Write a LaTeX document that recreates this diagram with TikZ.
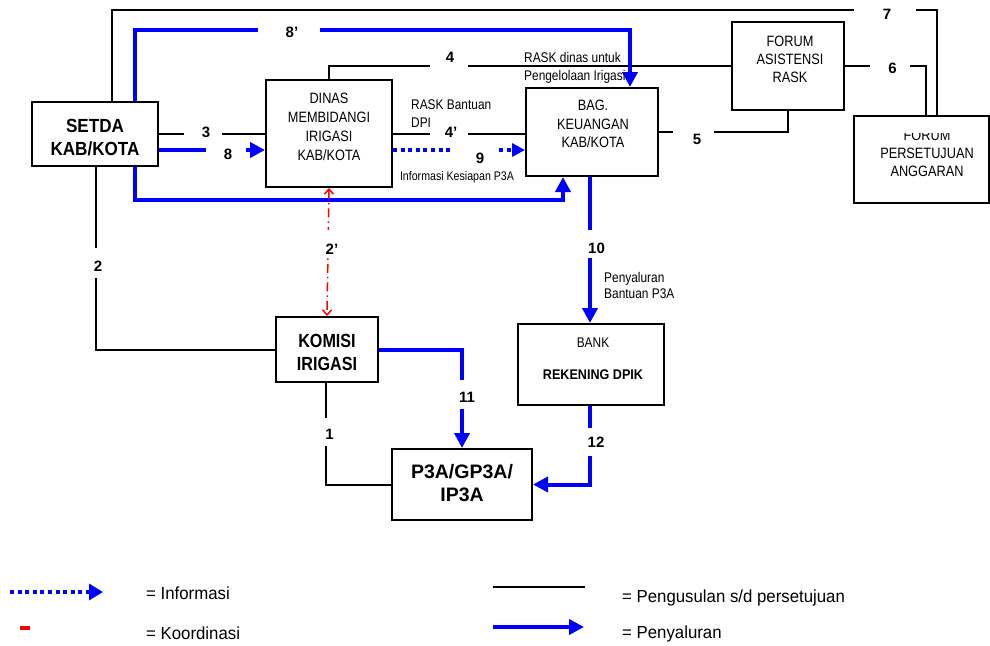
\documentclass[tikz,border=0pt]{standalone}
\usepackage{fontspec}
\setmainfont{Liberation Sans}
\newfontfamily\narA[FakeStretch=0.85]{Liberation Sans}
\newfontfamily\narB[FakeStretch=0.9]{Liberation Sans}
\newfontfamily\narC[FakeStretch=0.96]{Liberation Sans}
\usetikzlibrary{arrows.meta}
\definecolor{flowblue}{RGB}{0,0,255}
\definecolor{coordred}{RGB}{255,0,0}
\begin{document}
\begin{tikzpicture}[x=1pt,y=-1pt,
  box/.style={draw, line width=2pt, inner sep=0pt},
  txt/.style={align=center, inner sep=0pt, text=black},
  bk/.style={line width=2pt, draw=black},
  bl/.style={line width=4pt, draw=flowblue},
  tip/.style={-{Triangle[length=15pt,width=15pt]}},
  bldot/.style={line width=4pt, draw=flowblue, dash pattern=on 4pt off 3.6pt},
  rd/.style={line width=1.5pt, draw=coordred, dash pattern=on 9pt off 4pt on 1.5pt off 4pt, {Straight Barb[length=5pt,width=9pt]}-{Straight Barb[length=5pt,width=9pt]}},
  gap/.style={fill=white, inner sep=0pt, draw=none},
  num/.style={inner sep=0pt, font=\fontsize{15}{17}\selectfont\bfseries},
  note/.style={inner sep=0pt, align=left},
  leg/.style={inner sep=0pt, anchor=base west, font=\narC\fontsize{17.5}{20}\selectfont},
]
\useasboundingbox (0,0) rectangle (990,645);

% boxes
\node[box, minimum width=126pt, minimum height=64pt] (setda) at (95,134) {};
\node[box, minimum width=126pt, minimum height=107pt] (dinas) at (329,133.5) {};
\node[box, minimum width=132pt, minimum height=88pt] (bag) at (592,132) {};
\node[box, minimum width=112pt, minimum height=88pt] (fasis) at (788,66) {};
\node[box, minimum width=135pt, minimum height=87pt] (fpers) at (921.5,159.5) {};
\node[box, minimum width=102pt, minimum height=65pt] (komisi) at (327,349.5) {};
\node[box, minimum width=146pt, minimum height=81pt] (bank) at (591,364.5) {};
\node[box, minimum width=140pt, minimum height=71pt] (p3a) at (462,484.5) {};

% box texts
\node[txt, font=\narB\fontsize{19}{23}\selectfont\bfseries] (setdat) at (95,137.5) {SETDA\\KAB/KOTA};
\node[txt, font=\narA\fontsize{15}{19}\selectfont] (dinast) at (329,126.5) {DINAS\\MEMBIDANGI\\IRIGASI\\KAB/KOTA};
\node[txt, font=\narA\fontsize{15}{18.7}\selectfont] (bagt) at (593,124) {BAG.\\KEUANGAN\\KAB/KOTA};
\node[txt, font=\narA\fontsize{15}{18}\selectfont] (fasist) at (790,59) {FORUM\\ASISTENSI\\RASK};
\begin{scope}
\clip (856,133) rectangle (988,201);
\node[txt, font=\narA\fontsize{15}{18}\selectfont] (fperst) at (927,153.5) {FORUM\\PERSETUJUAN\\ANGGARAN};
\end{scope}
\node[txt, font=\narA\fontsize{19}{23}\selectfont\bfseries] (komisit) at (327,352.5) {KOMISI\\IRIGASI};
\node[txt, font=\narA\fontsize{14}{16}\selectfont] (bankt1) at (593,343) {BANK};
\node[txt, font=\narB\fontsize{14}{16}\selectfont\bfseries] (bankt2) at (593,375) {REKENING DPIK};
\node[txt, font=\fontsize{19.5}{23}\selectfont\bfseries] (p3at) at (462,483.5) {P3A/GP3A/\\IP3A};

% black connectors (pengusulan s/d persetujuan)
\draw[bk] ([xshift=17pt]setda.north) |- (937,10) -| ([xshift=15.5pt]fpers.north);
\draw[bk] (dinas.north) |- (fasis.west);
\draw[bk] (dinas.east) -- (dinas.east -| bag.west);
\draw[bk] (setda.east) -- (setda.east -| dinas.west);
\draw[bk] ([xshift=1pt]setda.south) |- (komisi.west);
\draw[bk] ([xshift=-1pt]komisi.south) |- (p3a.west);
\draw[bk] (bag.east) -| (fasis.south);
\draw[bk] (fasis.east) -| ([xshift=4.5pt]fpers.north);

% blue connectors (penyaluran)
\draw[bl,tip] ([xshift=40pt]setda.north) |- (630,30) -- ([xshift=38pt]bag.north);
\draw[bl,tip] ([yshift=-16pt]setda.east) -- ([yshift=-16pt]setda.east -| dinas.west);
\draw[bl,tip] ([xshift=40pt]setda.south) |- (563,200) -- ([xshift=-29pt]bag.south);
\draw[bl,tip] ([xshift=-2pt]bag.south) -- ([xshift=-2pt]bag.south |- bank.north);
\draw[bl,tip] ([xshift=-1pt]bank.south) |- (p3a.east);
\draw[bl,tip] (komisi.east) -| (p3a.north);

% informasi
\draw[bldot, -{Triangle[length=13pt,width=13pt]}] ([yshift=-16.5pt]dinas.east) -- ([yshift=-16.5pt]dinas.east -| bag.west);
% koordinasi
\draw[rd] (dinas.south) -- (komisi.north);

% gaps
\node[gap, minimum width=62pt, minimum height=6pt] (g7) at (885,10) {};
\node[gap, minimum width=62pt, minimum height=8pt] (g8p) at (289,30) {};
\node[gap, minimum width=38pt, minimum height=6pt] (g4) at (449,66) {};
\node[gap, minimum width=38pt, minimum height=6pt] (g4p) at (449,133.5) {};
\node[gap, minimum width=42pt, minimum height=8pt] (g9) at (475,150) {};
\node[gap, minimum width=38pt, minimum height=6pt] (g3) at (203,134) {};
\node[gap, minimum width=40pt, minimum height=8pt] (g8) at (226,150) {};
\node[gap, minimum width=8pt, minimum height=26pt] (g2p) at (329,243) {};
\node[gap, minimum width=6pt, minimum height=30pt] (g2) at (96,263) {};
\node[gap, minimum width=6pt, minimum height=28pt] (g1) at (326,432) {};
\node[gap, minimum width=8pt, minimum height=29pt] (g11) at (462,394.5) {};
\node[gap, minimum width=8pt, minimum height=28pt] (g10) at (590,244) {};
\node[gap, minimum width=8pt, minimum height=28pt] (g12) at (590,442) {};
\node[gap, minimum width=41pt, minimum height=6pt] (g5) at (693.5,132) {};
\node[gap, minimum width=40pt, minimum height=6pt] (g6) at (890,66) {};

% number labels
\node[num] (n7) at (887,14) {7};
\node[num] (n8p) at (292,32.5) {8’};
\node[num] (n4) at (450,57) {4};
\node[num] (n4p) at (451,132.5) {4’};
\node[num] (n9) at (480,158.5) {9};
\node[num] (n3) at (206,132.5) {3};
\node[num] (n8) at (228,154) {8};
\node[num] (n2p) at (332,249) {2’};
\node[num] (n2) at (98,266) {2};
\node[num] (n1) at (329.5,434.5) {1};
\node[num] (n11) at (467,397) {11};
\node[num] (n10) at (596.5,248.5) {10};
\node[num] (n12) at (596,442.5) {12};
\node[num] (n5) at (697,139) {5};
\node[num] (n6) at (892.5,68.5) {6};

% notes
\node[note, anchor=north west, font=\narA\fontsize{14}{18}\selectfont] (nrask) at (524,52) {RASK dinas untuk\\Pengelolaan Irigasi};
\node[note, anchor=north west, font=\narA\fontsize{14}{18}\selectfont] (nbant) at (411,100) {RASK Bantuan\\DPI};
\node[note, anchor=north, font=\narA\fontsize{12.5}{14}\selectfont] (ninfo) at (457,171) {Informasi Kesiapan P3A};
\node[note, anchor=north west, font=\narA\fontsize{14}{16}\selectfont] (npeny) at (604,272) {Penyaluran\\Bantuan P3A};

% legend
\coordinate (lgi1) at (10,592); \coordinate (lgi2) at (103,592);
\draw[bldot, -{Triangle[length=14pt,width=16pt]}] (lgi1) -- (lgi2);
\coordinate (lgk1) at (20,628); \coordinate (lgk2) at (30,628);
\draw[draw=coordred, line width=4.3pt] (lgk1) -- (lgk2);
\coordinate (lgp1) at (493,587); \coordinate (lgp2) at (585,587);
\draw[bk] (lgp1) -- (lgp2);
\coordinate (lgs1) at (493,627); \coordinate (lgs2) at (584,627);
\draw[bl,tip] (lgs1) -- (lgs2);
\node[leg] (lgit) at (146,599.5) {= Informasi};
\node[leg] (lgkt) at (146,639.5) {= Koordinasi};
\node[leg] (lgpt) at (622,602.5) {= Pengusulan s/d persetujuan};
\node[leg] (lgst) at (622,638) {= Penyaluran};
\end{tikzpicture}
\end{document}
